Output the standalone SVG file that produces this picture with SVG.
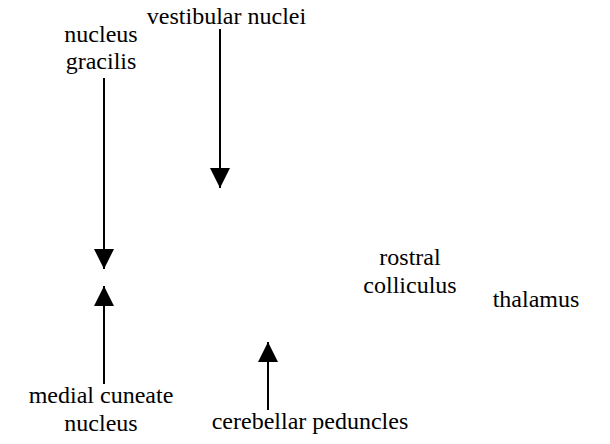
<svg xmlns="http://www.w3.org/2000/svg" width="610" height="444" viewBox="0 0 610 444">
<style>
.t{font-family:"Liberation Serif","Times New Roman",serif;font-size:24px;fill:#000;text-anchor:middle}
.c line{stroke:#000;stroke-width:2}
</style>
<defs>
<marker id="ah" viewBox="0 0 20 20" refX="20" refY="10" markerWidth="20" markerHeight="20" markerUnits="userSpaceOnUse" orient="auto">
<path d="M0,0 L20,10 L0,20 Z" fill="#000"/>
</marker>
</defs>
<rect width="610" height="444" fill="#fff"/>
<g id="nucleus-gracilis"><text class="t" x="101" y="42">nucleus</text><text class="t" x="101" y="69">gracilis</text></g>
<g id="vestibular-nuclei"><text class="t" x="226.5" y="24">vestibular nuclei</text></g>
<g id="rostral-colliculus"><text class="t" x="410" y="265">rostral</text><text class="t" x="410" y="293">colliculus</text></g>
<g id="thalamus"><text class="t" x="536" y="307">thalamus</text></g>
<g id="medial-cuneate-nucleus"><text class="t" x="101" y="403">medial cuneate</text><text class="t" x="101" y="431">nucleus</text></g>
<g id="cerebellar-peduncles"><text class="t" x="310" y="429">cerebellar peduncles</text></g>
<g id="connectors" class="c">
<line x1="104" y1="78" x2="104" y2="269" marker-end="url(#ah)"/>
<line x1="220" y1="29" x2="220" y2="188" marker-end="url(#ah)"/>
<line x1="104" y1="384" x2="104" y2="286" marker-end="url(#ah)"/>
<line x1="268" y1="410" x2="268" y2="342" marker-end="url(#ah)"/>
</g>
</svg>
